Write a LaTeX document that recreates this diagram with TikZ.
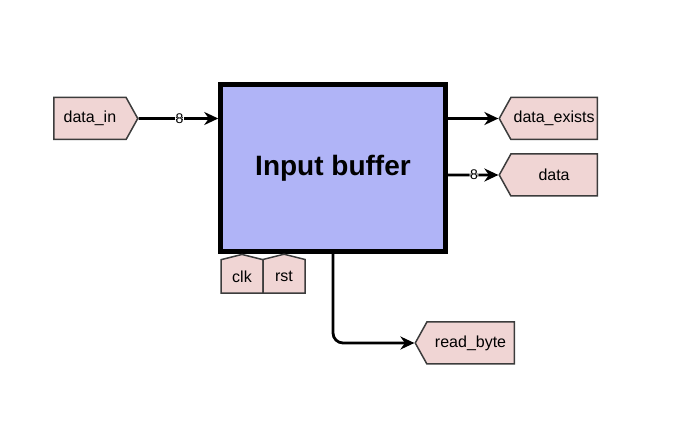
\documentclass[tikz,border=0pt]{standalone}
\usepackage{fontspec}
\setmainfont{Liberation Sans}
\usetikzlibrary{shapes}
\usetikzlibrary{arrows,arrows.meta}
\usetikzlibrary{positioning}
\definecolor{portfill}{RGB}{240,213,212}
\definecolor{portline}{RGB}{60,60,60}
\definecolor{buffill}{RGB}{176,180,247}

\begin{document}
\begin{tikzpicture}[x=1pt,y=-1pt]
\tikzstyle{port}=[
        draw=portline,
        fill=portfill,
        line width=1.5pt,
        shape=signal,
        signal pointer angle=122,
        inner sep=0pt,
        minimum height=42pt,
        font=\fontsize{16}{19}\selectfont
]
\tikzstyle{portin}=[port,signal to=east,signal from=nowhere]
\tikzstyle{portout}=[port,signal to=west,signal from=nowhere]
\tikzstyle{portclk}=[port,signal to=north,signal from=nowhere,signal pointer angle=152,minimum height=36pt,minimum width=42pt]
\tikzstyle{bloc}=[rectangle,draw=black,line width=4.5pt,fill=buffill,
        minimum width=225pt,minimum height=167pt,
        font=\fontsize{28}{33}\selectfont\bfseries]
\tikzstyle{width}=[fill=white,inner sep=0.5pt,font=\fontsize{14}{16}\selectfont]
%styledesflèches
\tikzstyle{bus}=[-{Stealth[length=14pt,width=13pt,inset=4.5pt]},line width=2.8pt,rounded corners=10pt]
\useasboundingbox (0,0) rectangle (697,430);
%placementdesnœuds
\node[bloc] (buf) at (333,168) {Input buffer};
\node[portin,minimum width=84pt,anchor=west] (datain) at (53,118.5) {data\_in};
\node[portout,minimum width=98pt,anchor=east] (exists) at (598,118.5) {data\_exists};
\node[portout,minimum width=98pt,anchor=east] (data) at (598,175) {data};
\node[portclk,anchor=south] (clk) at (242,294) {clk};
\node[portclk,anchor=south] (rst) at (284,294) {rst};
\node[portout,minimum width=99pt,anchor=east] (readb) at (515,343) {read\_byte};
%Placementdesflèches
\draw[bus] (datain) -- (buf.west |- datain) node[width,midway,xshift=1pt]{8};
\draw[bus] (buf.east |- exists) -- (exists);
\draw[bus] (buf.east |- data) -- (data) node[width,midway,xshift=1pt]{8};
\draw[bus] (buf.south) |- (readb);
\end{tikzpicture}
\end{document}
